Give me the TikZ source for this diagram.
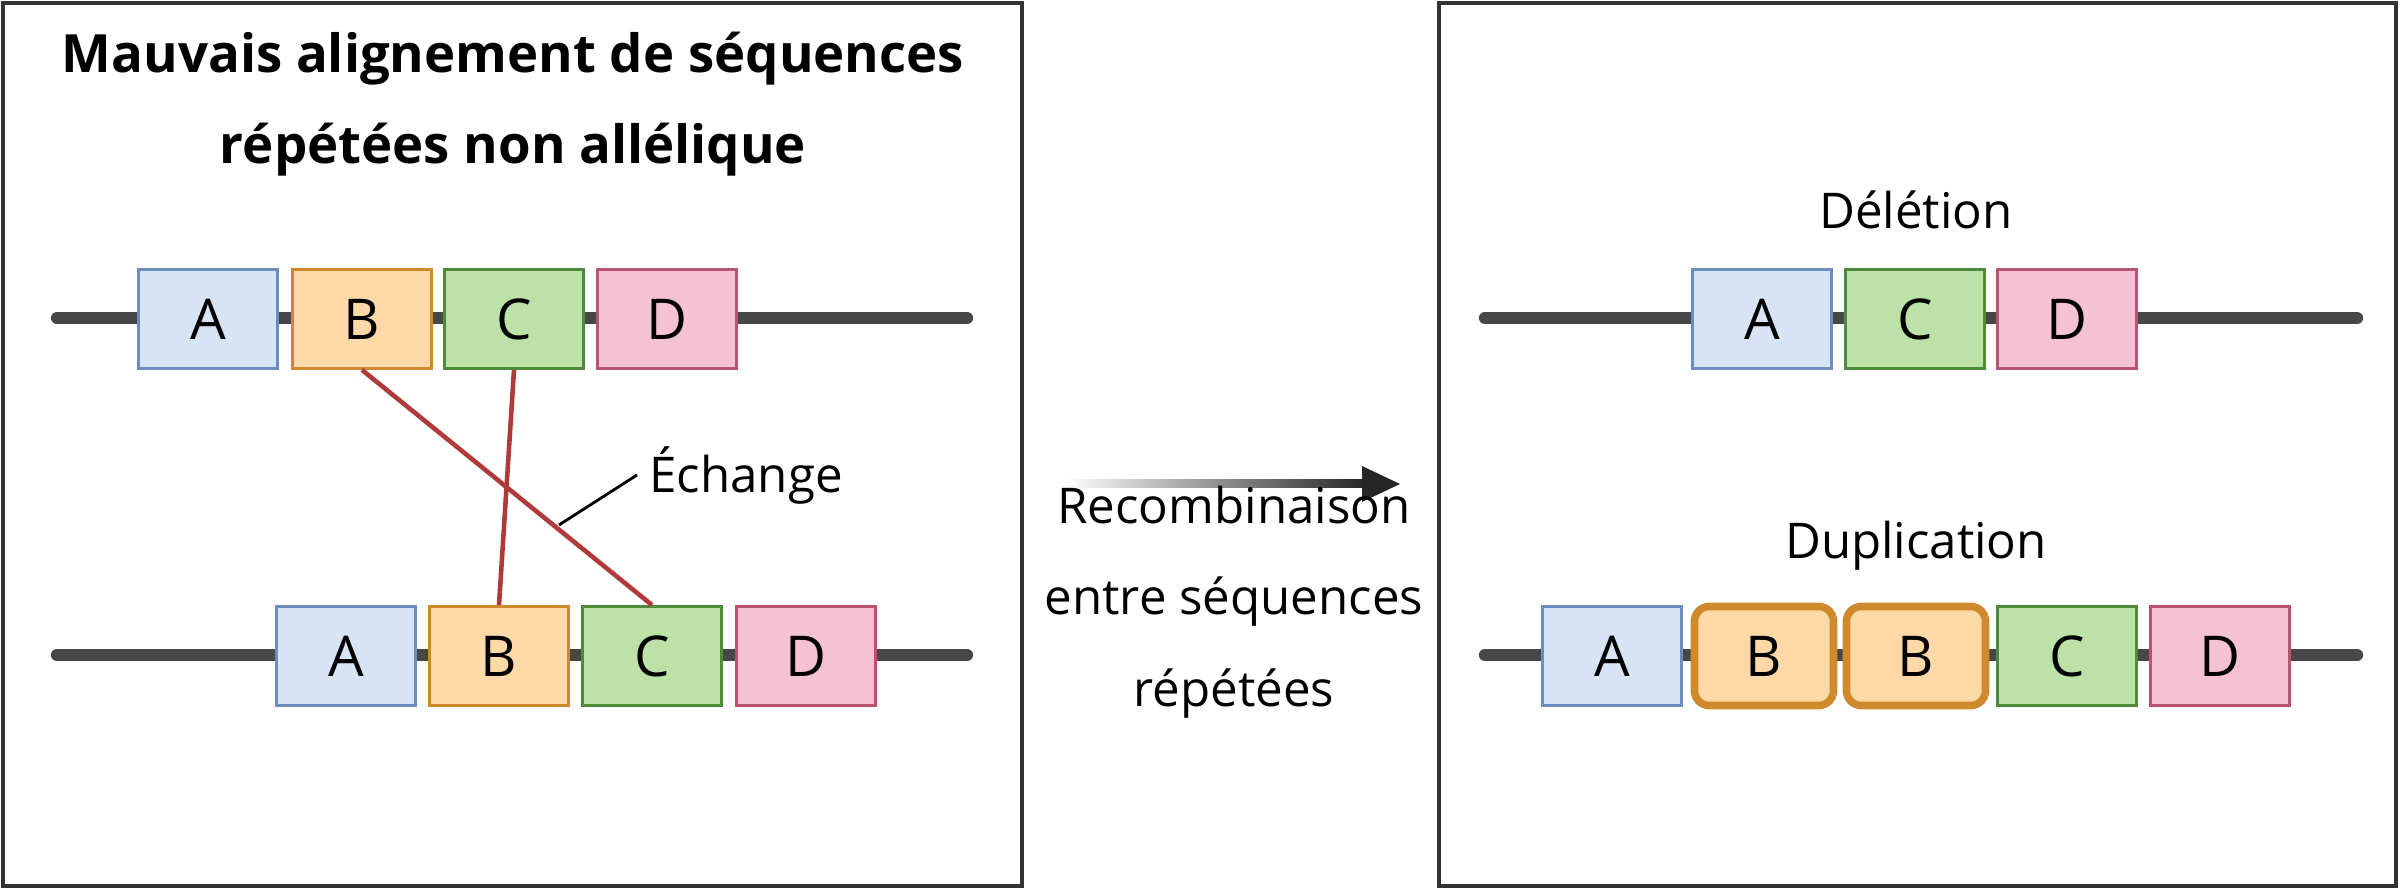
\documentclass[tikz,border=0pt]{standalone}
\usepackage{fontspec}
\setmainfont{Open Sans}
\usetikzlibrary{positioning}
\definecolor{blueF}{HTML}{D6E4F5}\definecolor{blueD}{HTML}{6C8EBF}
\definecolor{orangeF}{HTML}{FDD9A8}\definecolor{orangeD}{HTML}{D08A2E}
\definecolor{greenF}{HTML}{BCE2A8}\definecolor{greenD}{HTML}{4F8A3C}
\definecolor{pinkF}{HTML}{F4C2D2}\definecolor{pinkD}{HTML}{B85470}
\definecolor{xred}{HTML}{B03A3A}
\tikzset{
  gene/.style     = { rectangle, minimum width=1.39cm, minimum height=0.99cm, thick, font=\fontsize{16}{20}\selectfont, inner sep=0pt },
  geneA/.style    = { gene, fill=blueF, draw=blueD },
  geneB/.style    = { gene, fill=orangeF, draw=orangeD },
  geneC/.style    = { gene, fill=greenF, draw=greenD },
  geneD/.style    = { gene, fill=pinkF, draw=pinkD },
  dupB/.style     = { geneB, line width=2.2pt, rounded corners=1.5mm },
  strand/.style   = { line width=3.5pt, draw=black!72, line cap=round },
  panel/.style    = { draw=black!80, line width=1.2pt },
  crossing/.style = { draw=xred, line width=1.3pt },
  label/.style    = { font=\fontsize{14}{18}\selectfont, align=center },
}
\begin{document}
\begin{tikzpicture}[x=0.01cm, y=-0.01cm]
  \useasboundingbox (0,0) rectangle (2400,889);
  \draw [panel] (3,3) rectangle (1022,886);
  \draw [panel] (1439,3) rectangle (2396,886);
  \node (title) [font=\fontsize{15}{26}\selectfont\bfseries, align=center] at (513,104) {Mauvais alignement de séquences\\répétées non allélique};

  % left: top strand
  \draw [strand] (57,318) -- (967,318);
  \node (tA) [geneA] at (208,319) {A};
  \node (tB) [geneB] at (362,319) {B};
  \node (tC) [geneC] at (514,319) {C};
  \node (tD) [geneD] at (667,319) {D};
  % left: bottom strand
  \draw [strand] (57,655) -- (967,655);
  \node (bA) [geneA] at (346,656) {A};
  \node (bB) [geneB] at (499,656) {B};
  \node (bC) [geneC] at (652,656) {C};
  \node (bD) [geneD] at (806,656) {D};

  \draw [crossing] (tB.south) -- (bC.north);
  \draw [crossing] (tC.south) -- (bB.north);
  \coordinate (tick) at (559,525);
  \node (xlbl) [label, anchor=west] at (637,475) {Échange};
  \draw [thick] (tick) -- (xlbl.west);

  % middle arrow
  \coordinate (arrE) at (1400,484);
  \shade [left color=white, right color=black!85] (1064,480) rectangle (1365,488);
  \fill [black!85] (1362,466) -- (arrE) -- (1362,502) -- cycle;
  \node (recomb) [label, font=\fontsize{14}{26}\selectfont] at (1234,602) {Recombinaison\\entre séquences\\répétées};

  % right: deletion
  \node (del) [label] at (1916,210) {Délétion};
  \draw [strand] (1485,318) -- (2357,318);
  \node (dA) [geneA] at (1762,319) {A};
  \node (dC) [geneC] at (1915,319) {C};
  \node (dD) [geneD] at (2067,319) {D};
  % right: duplication
  \node (dup) [label] at (1916,546) {Duplication};
  \draw [strand] (1485,655) -- (2357,655);
  \node (uA)  [geneA] at (1612,656) {A};
  \node (uB1) [dupB]  at (1764,656) {B};
  \node (uB2) [dupB]  at (1916,656) {B};
  \node (uC)  [geneC] at (2067,656) {C};
  \node (uD)  [geneD] at (2220,656) {D};
\end{tikzpicture}
\end{document}
